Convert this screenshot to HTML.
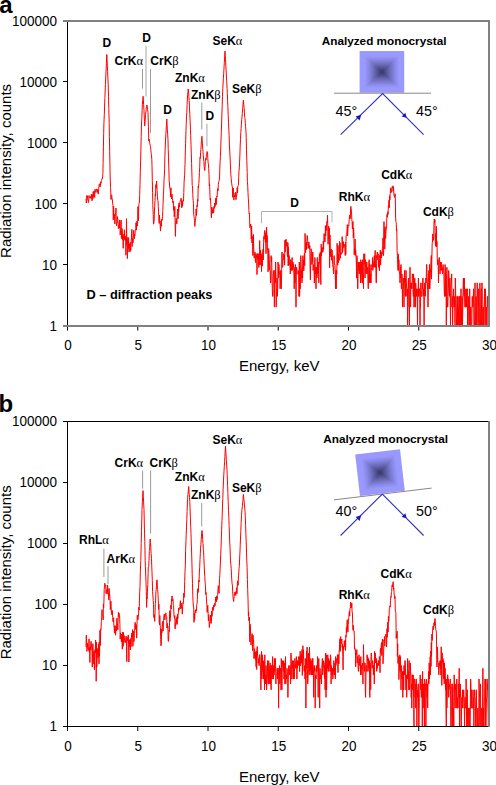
<!DOCTYPE html>
<html><head><meta charset="utf-8">
<style>
html,body{margin:0;padding:0;background:#fff;}
body{width:496px;height:785px;overflow:hidden;position:relative;}
svg{position:absolute;left:0;top:0;display:block;}
text{font-family:"Liberation Sans",sans-serif;}
.tk{font-size:13.5px;fill:#000;}
.tt{font-size:15px;fill:#000;}
.lb{font-size:12px;font-weight:bold;fill:#000;}
.gr{font-family:"Liberation Serif",serif;font-weight:normal;font-size:12.5px;}
</style></head>
<body>
<svg width="496" height="785" viewBox="0 0 496 785">
<defs>
<clipPath id="ca"><rect x="67" y="0" width="422" height="326"/></clipPath>
<clipPath id="cb"><rect x="67" y="400" width="422" height="327"/></clipPath>
</defs>
<!-- ===== PANEL A ===== -->
<path d="M86.0 198.9 L86.3 203.0 L86.6 200.8 L86.9 195.3 L87.2 198.1 L87.5 196.1 L87.8 200.0 L88.1 200.3 L88.4 202.6 L88.7 201.3 L89.0 195.5 L89.3 197.7 L89.6 197.7 L89.9 196.9 L90.2 196.9 L90.5 198.3 L90.8 196.6 L91.0 197.2 L91.4 194.1 L91.7 197.2 L92.0 200.8 L92.3 194.7 L92.6 199.3 L92.9 199.1 L93.2 191.6 L93.5 197.3 L93.8 193.5 L94.0 191.2 L94.4 196.9 L94.7 197.5 L95.0 189.3 L95.3 192.4 L95.6 191.5 L95.9 191.2 L96.2 189.9 L96.5 189.0 L96.8 188.9 L97.1 192.5 L97.4 189.5 L97.7 191.6 L98.0 192.6 L98.3 194.1 L98.6 189.9 L98.9 186.9 L99.2 184.1 L99.5 183.8 L99.8 185.2 L100.0 187.0 L100.4 185.9 L100.7 181.9 L101.0 183.3 L101.3 180.6 L101.6 180.4 L102.0 178.5 L102.2 178.6 L102.5 178.7 L102.9 173.3 L103.1 163.3 L103.4 146.9 L103.7 133.3 L103.9 123.6 L104.3 114.6 L104.6 106.1 L104.9 97.7 L105.2 90.0 L105.4 84.5 L105.8 76.1 L106.1 69.9 L106.4 63.3 L106.8 54.5 L107.0 58.9 L107.3 65.1 L107.6 71.6 L107.9 78.2 L108.2 84.2 L108.5 96.2 L108.8 108.4 L109.2 123.4 L109.4 136.5 L109.7 151.3 L110.1 174.0 L110.3 181.2 L110.6 187.6 L111.0 199.4 L111.2 195.6 L111.5 194.8 L111.8 195.6 L112.1 200.0 L112.4 199.7 L112.7 203.9 L113.0 205.6 L113.3 220.0 L113.6 206.1 L113.9 213.8 L114.2 215.5 L114.5 214.1 L114.8 223.9 L115.1 217.9 L115.4 214.7 L115.7 212.7 L116.0 208.0 L116.3 223.6 L116.6 225.6 L116.9 222.4 L117.2 222.8 L117.5 216.6 L117.8 219.5 L118.1 222.7 L118.4 228.8 L118.7 228.5 L119.0 224.9 L119.3 228.0 L119.6 219.9 L119.9 221.8 L120.2 235.0 L120.5 230.7 L120.8 229.5 L121.1 220.1 L121.4 238.6 L121.7 230.7 L122.0 228.5 L122.3 229.2 L122.6 240.1 L122.9 236.1 L123.2 248.3 L123.5 239.3 L123.8 234.3 L124.1 237.6 L124.4 229.8 L124.7 239.7 L125.0 235.8 L125.3 240.7 L125.6 236.8 L125.9 255.2 L126.2 247.6 L126.5 218.7 L126.8 244.2 L127.1 238.7 L127.4 258.6 L127.7 248.6 L128.0 237.2 L128.3 248.4 L128.6 238.3 L128.9 251.9 L129.2 251.8 L129.5 243.6 L129.8 245.0 L130.0 251.7 L130.4 242.3 L130.7 250.4 L131.0 244.1 L131.3 240.2 L131.6 233.2 L131.9 229.3 L132.2 246.6 L132.5 238.4 L132.8 238.7 L133.0 242.9 L133.4 234.4 L133.7 230.4 L134.0 236.1 L134.3 238.8 L134.6 234.4 L134.9 235.8 L135.2 230.7 L135.5 231.0 L135.8 230.3 L136.0 222.7 L136.4 230.1 L136.7 222.9 L137.0 221.1 L137.3 226.1 L137.6 223.4 L138.0 206.6 L138.2 215.8 L138.5 220.8 L138.8 204.4 L139.1 203.6 L139.5 201.0 L139.7 194.6 L140.0 184.3 L140.3 171.8 L140.5 166.2 L140.9 149.1 L141.2 136.6 L141.5 124.0 L141.8 118.6 L142.1 110.8 L142.3 104.9 L142.7 100.3 L143.1 96.3 L143.3 98.7 L143.6 104.5 L144.0 110.7 L144.2 115.1 L144.5 121.7 L144.7 126.0 L145.1 121.3 L145.5 114.6 L145.7 112.9 L146.0 111.2 L146.3 108.4 L146.6 106.3 L146.9 105.0 L147.2 106.1 L147.5 109.3 L147.8 111.1 L148.0 112.4 L148.4 126.3 L148.8 141.0 L149.0 139.1 L149.3 140.2 L149.6 142.1 L149.9 143.8 L150.3 145.5 L150.5 146.6 L150.8 149.5 L151.1 152.8 L151.4 154.7 L151.8 159.1 L152.0 165.5 L152.3 180.6 L152.6 192.3 L152.8 204.4 L153.2 214.4 L153.5 224.2 L153.8 223.2 L154.1 221.1 L154.5 210.0 L154.7 206.6 L155.0 200.6 L155.3 194.3 L155.5 195.7 L155.9 184.6 L156.2 188.2 L156.6 181.0 L156.8 184.6 L157.1 190.4 L157.4 196.8 L157.7 200.3 L158.0 200.7 L158.3 206.2 L158.6 212.2 L159.0 221.1 L159.2 223.4 L159.5 215.2 L159.8 222.5 L160.1 224.0 L160.5 231.1 L160.7 226.8 L161.0 220.9 L161.3 226.4 L161.6 219.5 L162.0 219.1 L162.2 220.4 L162.5 216.2 L162.8 210.6 L163.1 203.4 L163.4 194.8 L163.7 190.1 L164.0 180.5 L164.3 176.0 L164.6 169.8 L164.9 156.2 L165.2 148.0 L165.5 141.1 L165.8 134.8 L166.1 131.1 L166.4 125.4 L166.8 119.0 L167.0 123.2 L167.3 129.1 L167.6 133.1 L168.0 139.8 L168.2 148.4 L168.5 157.8 L168.8 167.0 L169.2 181.9 L169.4 182.0 L169.7 187.6 L170.0 188.7 L170.3 191.1 L170.6 196.8 L170.9 187.7 L171.2 196.7 L171.5 198.9 L171.8 196.3 L172.0 194.2 L172.4 198.6 L172.7 200.9 L173.0 203.1 L173.3 201.3 L173.6 210.3 L174.0 207.5 L174.2 216.7 L174.5 214.3 L174.8 206.4 L175.1 220.6 L175.4 236.4 L175.7 224.8 L176.0 219.7 L176.3 218.4 L176.6 223.2 L176.9 223.9 L177.2 216.7 L177.5 209.0 L177.8 209.7 L178.1 218.7 L178.5 205.3 L178.7 211.5 L179.0 202.9 L179.3 207.1 L179.6 204.7 L179.9 202.6 L180.2 201.2 L180.5 200.0 L180.8 200.0 L181.1 198.2 L181.4 201.4 L181.7 207.9 L182.0 200.9 L182.3 205.0 L182.5 206.2 L182.9 200.6 L183.2 199.9 L183.5 201.2 L183.8 192.6 L184.1 182.2 L184.5 175.9 L184.7 174.1 L185.0 164.3 L185.3 152.0 L185.6 143.7 L186.0 130.2 L186.2 124.7 L186.5 116.9 L186.8 112.8 L187.1 104.5 L187.3 100.0 L187.7 94.2 L188.0 91.5 L188.2 89.0 L188.6 92.0 L188.9 96.8 L189.2 100.7 L189.5 107.2 L189.8 114.7 L190.1 120.5 L190.5 129.5 L190.7 135.5 L191.0 144.2 L191.3 153.2 L191.6 163.4 L192.0 177.3 L192.2 185.6 L192.5 185.9 L192.8 194.5 L193.1 200.6 L193.5 203.8 L193.7 214.4 L194.0 216.6 L194.3 218.4 L194.6 220.5 L194.8 226.4 L195.2 221.9 L195.5 218.6 L195.8 218.6 L196.1 209.0 L196.5 215.4 L196.7 212.6 L197.0 205.0 L197.3 206.6 L197.6 199.5 L197.9 201.2 L198.2 186.4 L198.5 187.8 L198.8 183.6 L199.1 179.2 L199.4 172.6 L199.7 167.8 L200.0 157.4 L200.3 158.4 L200.6 152.9 L200.9 149.4 L201.2 145.1 L201.5 140.3 L201.9 136.3 L202.1 138.8 L202.4 143.9 L202.7 148.0 L203.0 151.7 L203.2 154.3 L203.6 159.0 L203.9 161.5 L204.2 166.8 L204.5 170.2 L204.8 170.6 L205.1 166.1 L205.4 161.7 L205.8 158.3 L206.0 159.9 L206.3 156.6 L206.6 156.1 L206.9 151.8 L207.1 151.5 L207.5 152.2 L207.8 158.4 L208.1 162.4 L208.5 164.8 L208.7 168.5 L209.0 174.3 L209.3 185.9 L209.6 183.8 L210.0 196.5 L210.2 200.0 L210.5 198.2 L210.8 204.6 L211.1 209.5 L211.4 217.8 L211.7 207.0 L212.0 213.6 L212.3 210.4 L212.6 212.7 L212.9 209.2 L213.2 207.7 L213.5 213.1 L213.8 211.5 L214.0 206.5 L214.4 208.2 L214.7 203.0 L215.0 206.7 L215.3 205.9 L215.6 198.3 L216.0 198.1 L216.2 204.7 L216.5 200.1 L216.8 196.1 L217.1 196.8 L217.4 191.9 L217.7 188.6 L218.0 190.9 L218.3 184.7 L218.6 181.9 L218.9 181.5 L219.2 180.7 L219.6 177.0 L219.8 168.1 L220.1 161.7 L220.4 156.6 L220.7 150.0 L221.0 139.1 L221.3 132.5 L221.6 123.0 L221.9 114.0 L222.2 105.6 L222.5 96.4 L222.8 88.2 L223.1 83.0 L223.4 78.4 L223.7 73.3 L224.0 68.0 L224.3 62.7 L224.6 57.9 L225.0 51.1 L225.2 55.0 L225.5 59.8 L225.8 65.2 L226.1 70.1 L226.4 76.0 L226.7 81.5 L227.1 88.5 L227.3 93.3 L227.6 100.8 L227.9 106.7 L228.2 115.5 L228.5 122.2 L228.9 131.2 L229.1 135.3 L229.4 144.1 L229.7 150.0 L230.0 156.0 L230.3 162.3 L230.6 170.2 L230.8 174.1 L231.2 178.3 L231.5 182.9 L231.8 183.9 L232.1 186.6 L232.4 186.7 L232.7 197.3 L233.0 192.0 L233.3 188.0 L233.6 195.2 L233.9 200.1 L234.2 195.7 L234.4 195.2 L234.8 197.0 L235.1 193.4 L235.4 195.3 L235.7 192.1 L236.0 199.7 L236.3 195.6 L236.5 196.7 L236.9 192.9 L237.2 187.7 L237.5 193.0 L237.8 185.8 L238.0 185.5 L238.4 185.2 L238.7 177.6 L239.0 170.9 L239.3 167.9 L239.6 162.1 L239.9 155.1 L240.2 145.0 L240.5 139.4 L240.8 132.5 L241.1 128.4 L241.4 124.2 L241.7 119.4 L242.0 117.1 L242.3 113.4 L242.6 108.6 L242.9 106.2 L243.2 102.1 L243.4 100.2 L243.8 104.8 L244.1 107.9 L244.4 112.2 L244.7 116.7 L245.0 118.6 L245.3 123.1 L245.6 126.3 L246.0 131.6 L246.2 137.5 L246.5 149.8 L246.8 160.3 L247.2 172.7 L247.4 181.6 L247.7 185.3 L248.0 192.6 L248.3 198.3 L248.6 202.9 L248.9 210.3 L249.1 213.8 L249.5 213.0 L249.8 227.6 L250.1 227.1 L250.5 226.1 L250.7 224.0 L251.0 230.7 L251.3 239.0 L251.6 226.0 L252.0 243.0 L252.2 236.3 L252.5 243.7 L252.8 255.5 L253.1 249.3 L253.4 234.5 L253.7 247.1 L254.0 256.0 L254.3 258.1 L254.6 253.8 L254.9 251.9 L255.2 257.8 L255.5 262.5 L255.8 253.6 L256.1 253.6 L256.4 257.6 L256.7 255.5 L257.0 274.6 L257.3 255.5 L257.6 253.6 L258.0 259.7 L258.2 253.6 L258.5 255.5 L258.8 267.5 L259.1 262.1 L259.4 264.8 L259.7 240.6 L260.0 259.8 L260.3 253.6 L260.6 250.1 L260.9 265.1 L261.2 253.7 L261.5 271.6 L261.8 255.7 L262.0 257.9 L262.4 266.1 L262.7 254.4 L263.0 249.2 L263.3 259.9 L263.6 242.3 L263.9 236.3 L264.2 239.3 L264.5 230.7 L264.8 230.3 L265.2 232.0 L265.4 242.4 L265.7 233.0 L266.0 253.7 L266.3 241.5 L266.6 227.1 L266.9 241.9 L267.2 235.6 L267.5 250.5 L267.8 252.0 L268.0 271.8 L268.4 268.0 L268.7 248.5 L269.0 253.6 L269.3 259.7 L269.6 270.4 L269.9 270.4 L270.2 270.4 L270.5 282.9 L270.8 282.9 L271.1 255.6 L271.4 262.0 L271.7 257.5 L272.0 278.0 L272.3 288.8 L272.6 296.4 L272.9 296.4 L273.2 273.9 L273.5 273.9 L273.8 270.4 L274.1 288.8 L274.4 307.1 L274.7 273.9 L275.0 270.4 L275.3 282.9 L275.6 262.0 L275.9 273.9 L276.2 307.1 L276.5 288.8 L276.8 288.8 L277.0 278.0 L277.4 296.4 L277.7 288.8 L278.0 262.0 L278.3 267.3 L278.6 278.0 L278.9 264.5 L279.2 270.4 L279.5 273.9 L279.8 273.9 L280.1 288.8 L280.4 282.9 L280.7 270.4 L281.0 282.9 L281.3 288.8 L281.6 273.9 L282.0 252.0 L282.2 264.5 L282.5 267.3 L282.8 267.3 L283.1 257.5 L283.4 253.8 L283.7 253.7 L284.0 259.7 L284.3 255.5 L284.6 265.2 L284.9 240.2 L285.2 252.1 L285.5 240.2 L285.8 241.6 L286.1 239.2 L286.4 246.4 L286.7 243.0 L287.0 242.0 L287.3 255.0 L287.6 256.7 L287.9 242.8 L288.2 265.9 L288.5 247.0 L288.8 265.2 L289.1 255.5 L289.4 264.7 L289.7 264.6 L290.0 264.5 L290.3 273.9 L290.6 259.7 L290.9 259.7 L291.2 262.0 L291.5 270.4 L291.8 270.4 L292.1 257.5 L292.4 270.4 L292.7 267.3 L293.0 262.0 L293.3 267.3 L293.6 264.5 L293.9 273.9 L294.2 288.8 L294.5 278.0 L294.8 267.3 L295.0 282.9 L295.4 264.5 L295.7 267.3 L296.0 307.1 L296.3 273.9 L296.6 267.3 L296.9 270.4 L297.2 273.9 L297.5 273.9 L297.8 273.9 L298.1 273.9 L298.4 270.4 L298.7 273.9 L299.0 296.4 L299.3 262.0 L299.6 296.4 L300.0 278.0 L300.2 288.8 L300.5 278.0 L300.8 255.6 L301.1 267.3 L301.4 278.0 L301.7 270.4 L302.0 282.9 L302.3 267.3 L302.6 278.0 L302.9 255.6 L303.2 267.4 L303.5 259.7 L303.8 270.9 L304.0 262.2 L304.4 253.7 L304.7 265.6 L305.0 233.5 L305.3 237.8 L305.6 252.7 L305.9 244.6 L306.2 249.8 L306.5 242.4 L306.8 249.0 L307.1 235.5 L307.5 237.0 L307.7 240.8 L308.0 244.5 L308.3 244.0 L308.6 248.3 L308.9 241.9 L309.2 246.0 L309.5 248.9 L309.8 245.6 L310.1 268.8 L310.4 279.9 L310.7 265.0 L311.0 248.6 L311.3 250.2 L311.6 250.3 L311.9 264.5 L312.2 253.8 L312.5 262.0 L312.8 252.0 L313.1 270.4 L313.4 267.3 L313.7 264.5 L314.0 267.3 L314.3 282.9 L314.6 278.0 L314.9 257.5 L315.2 273.9 L315.5 267.3 L315.8 278.0 L316.0 288.8 L316.4 267.3 L316.7 273.9 L317.0 278.0 L317.3 257.5 L317.6 273.9 L317.9 264.5 L318.2 262.0 L318.5 264.5 L318.8 282.9 L319.1 264.5 L319.4 253.8 L319.7 255.6 L320.0 264.5 L320.3 251.9 L320.6 278.9 L320.9 284.6 L321.2 244.1 L321.5 255.9 L321.8 248.7 L322.1 252.5 L322.4 247.5 L322.7 247.9 L323.0 251.8 L323.3 241.1 L323.6 249.2 L324.0 233.6 L324.2 233.8 L324.5 236.5 L324.8 242.0 L325.1 241.2 L325.4 225.6 L325.7 236.0 L326.0 228.3 L326.3 230.6 L326.6 224.1 L326.9 221.6 L327.3 223.0 L327.5 215.1 L327.8 227.3 L328.1 244.3 L328.4 226.7 L328.7 226.1 L329.0 239.2 L329.3 227.8 L329.6 267.8 L330.0 235.0 L330.2 248.4 L330.5 249.6 L330.8 256.9 L331.1 248.9 L331.4 256.1 L331.7 260.3 L332.0 250.1 L332.3 253.6 L332.6 264.6 L333.0 267.3 L333.2 267.3 L333.5 273.9 L333.8 267.3 L334.1 255.6 L334.4 264.5 L334.7 264.5 L335.0 264.5 L335.3 278.0 L335.7 288.8 L335.9 270.4 L336.2 288.8 L336.5 270.4 L336.8 273.9 L337.1 243.3 L337.4 251.8 L337.7 265.2 L338.0 245.5 L338.3 262.9 L338.6 253.9 L338.9 258.1 L339.2 260.5 L339.5 241.4 L339.8 252.1 L340.1 242.7 L340.4 258.3 L340.7 252.2 L341.0 252.2 L341.3 254.2 L341.6 254.2 L342.0 252.3 L342.2 236.6 L342.5 252.4 L342.8 250.7 L343.1 244.3 L343.4 241.6 L343.7 247.5 L344.0 247.5 L344.3 244.5 L344.6 244.6 L345.0 246.2 L345.2 255.5 L345.5 242.3 L345.8 254.6 L346.1 235.5 L346.4 235.9 L346.7 235.3 L347.0 230.5 L347.3 224.6 L347.6 236.0 L348.0 228.6 L348.2 226.4 L348.5 225.4 L348.8 226.1 L349.1 220.8 L349.4 216.9 L349.7 215.2 L350.0 218.9 L350.3 218.3 L350.6 207.8 L350.9 206.4 L351.1 208.2 L351.5 211.9 L351.8 219.8 L352.1 221.5 L352.4 228.9 L352.7 223.9 L353.0 221.5 L353.3 237.7 L353.6 227.9 L353.9 233.9 L354.2 254.8 L354.5 248.1 L354.8 252.6 L355.1 239.0 L355.4 255.6 L355.7 250.1 L356.0 255.5 L356.3 262.0 L356.6 278.2 L356.9 255.6 L357.2 257.5 L357.5 282.9 L357.8 288.8 L358.0 278.0 L358.4 262.0 L358.7 270.4 L359.0 262.0 L359.3 273.9 L359.6 264.5 L359.9 262.0 L360.2 262.0 L360.5 282.9 L360.8 259.7 L361.1 273.9 L361.4 262.0 L361.7 278.0 L362.0 282.9 L362.3 282.9 L362.6 259.7 L362.9 282.9 L363.2 273.9 L363.5 288.8 L363.8 253.8 L364.1 262.0 L364.4 264.5 L364.7 253.8 L365.0 278.0 L365.3 259.7 L365.6 259.7 L365.9 273.9 L366.2 273.9 L366.5 267.3 L366.8 262.0 L367.1 273.9 L367.4 267.3 L367.7 267.3 L368.0 282.9 L368.3 288.8 L368.6 273.9 L368.9 262.0 L369.2 259.7 L369.5 282.9 L369.8 267.3 L370.1 264.5 L370.4 282.9 L370.7 273.9 L371.0 282.9 L371.3 270.4 L371.6 267.3 L372.0 264.5 L372.2 267.3 L372.5 257.5 L372.8 270.4 L373.1 267.3 L373.4 267.3 L373.7 262.0 L374.0 259.7 L374.3 255.6 L374.6 267.3 L374.9 255.6 L375.2 250.4 L375.5 267.3 L375.8 264.5 L376.1 282.9 L376.4 282.9 L376.7 255.6 L377.0 257.5 L377.3 252.0 L377.6 259.7 L378.0 255.6 L378.2 253.8 L378.5 267.3 L378.8 262.0 L379.1 259.7 L379.4 270.8 L379.7 255.5 L380.0 257.6 L380.3 250.1 L380.6 265.1 L380.9 255.6 L381.2 251.9 L381.5 257.9 L381.8 252.0 L382.1 254.1 L382.4 247.2 L382.7 247.5 L383.0 238.0 L383.3 255.7 L383.6 254.2 L384.0 221.6 L384.2 241.9 L384.5 228.7 L384.8 249.1 L385.1 226.6 L385.4 238.7 L385.7 238.0 L386.0 230.8 L386.3 229.9 L386.6 228.3 L386.9 214.5 L387.2 214.4 L387.5 217.2 L387.8 211.8 L388.0 214.5 L388.4 205.8 L388.7 207.3 L389.0 200.2 L389.3 207.7 L389.6 195.8 L389.9 199.9 L390.2 193.3 L390.5 191.0 L390.8 187.9 L391.0 192.8 L391.4 190.7 L391.7 191.3 L392.0 187.2 L392.3 186.7 L392.6 188.0 L393.0 185.8 L393.2 191.3 L393.5 187.2 L393.8 193.4 L394.1 196.0 L394.4 196.8 L394.7 197.5 L395.0 193.7 L395.3 197.3 L395.6 217.0 L395.9 221.8 L396.2 222.6 L396.5 230.8 L396.8 229.4 L397.1 250.9 L397.4 255.6 L397.6 259.7 L398.0 270.4 L398.3 253.8 L398.6 270.4 L398.9 259.7 L399.2 270.4 L399.5 273.9 L399.8 273.9 L400.0 282.9 L400.4 267.3 L400.7 278.0 L401.0 264.5 L401.3 288.8 L401.6 288.8 L401.9 273.9 L402.2 278.0 L402.5 307.1 L402.8 288.8 L403.1 288.8 L403.4 282.9 L403.7 278.0 L404.0 307.1 L404.3 278.0 L404.6 270.4 L404.9 282.9 L405.2 278.0 L405.5 296.4 L405.8 278.0 L406.0 270.4 L406.4 282.9 L406.7 288.8 L407.0 296.4 L407.3 288.8 L407.6 325.5 L407.9 296.4 L408.2 282.9 L408.5 278.0 L408.8 307.1 L409.1 307.1 L409.4 325.5 L409.7 288.8 L410.0 267.3 L410.3 296.4 L410.6 307.1 L410.9 282.9 L411.2 288.8 L411.5 282.9 L411.8 288.8 L412.0 288.8 L412.4 273.9 L412.7 278.0 L413.0 278.0 L413.3 296.4 L413.6 273.9 L413.9 307.1 L414.2 307.1 L414.5 282.9 L414.8 278.0 L415.1 307.1 L415.4 307.1 L415.7 282.9 L416.0 288.8 L416.3 296.4 L416.6 288.8 L416.9 296.4 L417.2 296.4 L417.5 325.5 L417.8 288.8 L418.1 296.4 L418.4 278.0 L418.7 296.4 L419.0 288.8 L419.3 288.8 L419.6 288.8 L420.0 325.5 L420.2 307.1 L420.5 307.1 L420.8 282.9 L421.1 296.4 L421.4 296.4 L421.7 296.4 L422.0 288.8 L422.3 282.9 L422.6 288.8 L422.9 278.0 L423.2 296.4 L423.5 288.8 L423.8 296.4 L424.1 325.5 L424.4 296.4 L424.7 282.9 L425.0 288.8 L425.3 296.4 L425.6 282.9 L425.9 278.0 L426.2 282.9 L426.5 264.5 L426.8 264.5 L427.1 278.0 L427.4 288.8 L427.7 282.9 L428.0 307.1 L428.3 282.9 L428.6 273.9 L428.9 270.4 L429.2 288.8 L429.5 264.5 L429.8 288.8 L430.2 278.0 L430.4 273.9 L430.7 267.3 L431.0 262.0 L431.3 255.5 L431.5 279.1 L431.9 256.0 L432.2 242.9 L432.5 242.0 L432.7 233.9 L433.1 235.8 L433.4 240.5 L433.7 237.7 L434.0 222.3 L434.3 219.0 L434.6 223.0 L434.9 219.7 L435.2 238.8 L435.5 246.0 L435.8 233.3 L436.1 246.7 L436.4 226.3 L436.6 246.8 L437.0 241.5 L437.3 260.1 L437.6 264.7 L437.8 259.7 L438.2 264.5 L438.5 282.9 L438.8 262.0 L439.1 257.5 L439.4 257.5 L439.7 262.0 L440.0 273.9 L440.3 264.5 L440.6 262.0 L440.9 270.4 L441.2 262.0 L441.5 267.3 L441.8 270.4 L442.1 267.3 L442.5 273.9 L442.7 273.9 L443.0 264.5 L443.3 267.3 L443.6 270.4 L443.9 273.9 L444.2 288.8 L444.5 296.4 L444.8 282.9 L445.0 264.5 L445.4 267.3 L445.7 296.4 L446.0 273.9 L446.3 325.5 L446.6 296.4 L446.9 267.3 L447.2 296.4 L447.5 307.1 L447.8 307.1 L448.0 296.4 L448.4 288.8 L448.7 270.4 L449.0 278.0 L449.3 288.8 L449.6 296.4 L449.9 278.0 L450.2 296.4 L450.5 325.5 L450.8 288.8 L451.1 282.9 L451.4 282.9 L451.7 273.9 L452.0 307.1 L452.3 296.4 L452.6 325.5 L452.9 307.1 L453.2 296.4 L453.5 288.8 L453.8 307.1 L454.1 307.1 L454.4 307.1 L454.7 296.4 L455.0 325.5 L455.3 278.0 L455.6 288.8 L455.9 307.1 L456.2 307.1 L456.5 325.5 L456.8 325.5 L457.1 296.4 L457.4 325.5 L457.7 296.4 L458.0 296.4 L458.3 325.5 L458.6 307.1 L458.9 307.1 L459.2 296.4 L459.5 325.5 L459.8 296.4 L460.1 307.1 L460.4 296.4 L460.7 325.5 L461.0 288.8 L461.3 325.5 L461.6 307.1 L461.9 307.1 L462.2 296.4 L462.5 325.5 L462.8 307.1 L463.1 288.8 L463.4 278.0 L463.7 288.8 L464.0 296.4 L464.3 278.0 L464.6 296.4 L465.0 307.1 L465.2 288.8 L465.5 307.1 L465.8 307.1 L466.1 296.4 L466.4 307.1 L466.7 288.8 L467.0 296.4 L467.3 288.8 L467.6 325.5 L467.9 307.1 L468.2 307.1 L468.5 296.4 L468.8 325.5 L469.1 325.5 L469.4 325.5 L469.7 288.8 L470.0 325.5 L470.3 325.5 L470.6 307.1 L470.9 307.1 L471.2 325.5 L471.5 325.5 L471.8 325.5 L472.1 296.4 L472.4 296.4 L472.7 307.1 L473.0 307.1 L473.3 296.4 L473.6 288.8 L473.9 325.5 L474.2 325.5 L474.5 325.5 L474.8 307.1 L475.0 282.9 L475.4 325.5 L475.7 325.5 L476.0 296.4 L476.3 296.4 L476.6 325.5 L476.9 325.5 L477.2 282.9 L477.5 296.4 L477.8 296.4 L478.1 325.5 L478.4 307.1 L478.7 288.8 L479.0 325.5 L479.3 325.5 L479.6 325.5 L479.9 282.9 L480.2 307.1 L480.5 325.5 L480.8 325.5 L481.1 296.4 L481.4 288.8 L481.7 325.5 L482.0 282.9 L482.3 325.5 L482.6 325.5 L482.9 325.5 L483.2 307.1 L483.5 325.5 L483.8 307.1 L484.1 307.1 L484.4 296.4 L484.7 288.8 L485.0 325.5 L485.3 288.8 L485.6 296.4 L485.9 325.5 L486.2 325.5 L486.5 307.1 L486.8 325.5 L487.1 325.5 L487.4 296.4 L487.7 296.4 L488.0 307.1 L488.3 307.1 L488.6 288.8 L489.0 278.0" fill="none" stroke="#ff0000" stroke-width="1" stroke-linejoin="round" clip-path="url(#ca)"/>
<g stroke="#000" stroke-width="1" fill="none">
<line x1="67.5" y1="20" x2="67.5" y2="330.5"/>
<line x1="63" y1="81.5" x2="67" y2="81.5"/>
<line x1="63" y1="142.5" x2="67" y2="142.5"/>
<line x1="63" y1="203.5" x2="67" y2="203.5"/>
<line x1="63" y1="264.5" x2="67" y2="264.5"/>
<line x1="137.75" y1="326" x2="137.75" y2="330.5"/>
<line x1="208" y1="326" x2="208" y2="330.5"/>
<line x1="278.25" y1="326" x2="278.25" y2="330.5"/>
<line x1="348.5" y1="326" x2="348.5" y2="330.5"/>
<line x1="418.75" y1="326" x2="418.75" y2="330.5"/>
</g>
<g stroke="#808080" stroke-width="2" fill="none">
<path d="M63 21 H489 V326 H63"/>
</g>
<g class="tk" text-anchor="end">
<text x="57" y="26.2" transform="translate(0 -1.83) scale(1 1.07)">100000</text>
<text x="57" y="87.2" transform="translate(0 -6.10) scale(1 1.07)">10000</text>
<text x="57" y="148.2" transform="translate(0 -10.37) scale(1 1.07)">1000</text>
<text x="57" y="209.2" transform="translate(0 -14.64) scale(1 1.07)">100</text>
<text x="57" y="270.2" transform="translate(0 -18.91) scale(1 1.07)">10</text>
<text x="57" y="331.2" transform="translate(0 -23.18) scale(1 1.07)">1</text>
</g>
<g class="tk" text-anchor="middle">
<text x="68" y="350.2" transform="translate(0 -24.51) scale(1 1.07)">0</text>
<text x="138.25" y="350.2" transform="translate(0 -24.51) scale(1 1.07)">5</text>
<text x="208.5" y="350.2" transform="translate(0 -24.51) scale(1 1.07)">10</text>
<text x="278.75" y="350.2" transform="translate(0 -24.51) scale(1 1.07)">15</text>
<text x="349" y="350.2" transform="translate(0 -24.51) scale(1 1.07)">20</text>
<text x="419.25" y="350.2" transform="translate(0 -24.51) scale(1 1.07)">25</text>
<text x="489.5" y="350.2" transform="translate(0 -24.51) scale(1 1.07)">30</text>
</g>
<text class="tt" x="279.25" y="371" text-anchor="middle">Energy, keV</text>
<text class="tt" transform="translate(10.8,170.9) rotate(-90)" text-anchor="middle">Radiation intensity, counts</text>
<text x="-0.8" y="13.2" style="font-size:24px;font-weight:bold">a</text>

<!-- labels a -->
<g class="lb">
<text x="102.5" y="46.5">D</text>
<text x="142.2" y="42">D</text>
<text x="114.5" y="65.3">CrK<tspan class="gr">α</tspan></text>
<text x="150.3" y="65.3">CrK<tspan class="gr">β</tspan></text>
<text x="163.2" y="114">D</text>
<text x="175" y="82">ZnK<tspan class="gr">α</tspan></text>
<text x="191" y="98.7">ZnK<tspan class="gr">β</tspan></text>
<text x="205.6" y="119.7">D</text>
<text x="212.5" y="44.8">SeK<tspan class="gr">α</tspan></text>
<text x="231.9" y="92.7">SeK<tspan class="gr">β</tspan></text>
<text x="294.6" y="207.1" text-anchor="middle">D</text>
<text x="338.8" y="200.9">RhK<tspan class="gr">α</tspan></text>
<text x="381.2" y="179.2">CdK<tspan class="gr">α</tspan></text>
<text x="422.9" y="216.4">CdK<tspan class="gr">β</tspan></text>
<text x="86.5" y="299" style="font-size:12.8px">D – diffraction peaks</text>
</g>
<g stroke="#999" stroke-width="1" fill="none">
<line x1="142.5" y1="69" x2="142.5" y2="88.6"/>
<line x1="150.5" y1="69" x2="150.5" y2="132.8"/>
<line x1="201.8" y1="102.7" x2="201.8" y2="129.4"/>
</g>
<g stroke="#c8c8c8" stroke-width="1.6" fill="none">
<line x1="146" y1="46.1" x2="146" y2="96.6"/>
<line x1="206.9" y1="123.7" x2="206.9" y2="146.3"/>
</g>
<path d="M261.5 223.3 V211.5 H332 V222.3" stroke="#b0b0b0" stroke-width="1" fill="none"/>

<!-- inset a -->
<text class="lb" x="384.1" y="44.7" text-anchor="middle" style="font-size:11.75px">Analyzed monocrystal</text>
<g transform="translate(381.9,71.9) rotate(0)"><rect x="-22.30" y="-20.85" width="44.60" height="41.70" fill="#9999ff"/><rect x="-21.36" y="-19.97" width="42.72" height="39.94" fill="#9999ff"/><rect x="-20.42" y="-19.09" width="40.84" height="38.18" fill="#9999ff"/><rect x="-19.48" y="-18.21" width="38.96" height="36.42" fill="#9999ff"/><rect x="-18.54" y="-17.33" width="37.08" height="34.67" fill="#9999ff"/><rect x="-17.60" y="-16.45" width="35.20" height="32.91" fill="#9999ff"/><rect x="-16.66" y="-15.57" width="33.31" height="31.15" fill="#9696fb"/><rect x="-15.72" y="-14.69" width="31.43" height="29.39" fill="#9292f5"/><rect x="-14.78" y="-13.82" width="29.55" height="27.63" fill="#8e8eef"/><rect x="-13.84" y="-12.94" width="27.67" height="25.87" fill="#8a8ae8"/><rect x="-12.90" y="-12.06" width="25.79" height="24.11" fill="#8585e0"/><rect x="-11.95" y="-11.18" width="23.91" height="22.35" fill="#8080d9"/><rect x="-11.01" y="-10.30" width="22.03" height="20.60" fill="#7b7bd0"/><rect x="-10.07" y="-9.42" width="20.15" height="18.84" fill="#7575c8"/><rect x="-9.13" y="-8.54" width="18.27" height="17.08" fill="#7070bf"/><rect x="-8.19" y="-7.66" width="16.39" height="15.32" fill="#6a6ab6"/><rect x="-7.25" y="-6.78" width="14.50" height="13.56" fill="#6464ad"/><rect x="-6.31" y="-5.90" width="12.62" height="11.80" fill="#5e5ea4"/><rect x="-5.37" y="-5.02" width="10.74" height="10.04" fill="#58589a"/><rect x="-4.43" y="-4.14" width="8.86" height="8.29" fill="#525290"/><rect x="-3.49" y="-3.26" width="6.98" height="6.53" fill="#4b4b86"/><rect x="-2.55" y="-2.38" width="5.10" height="4.77" fill="#45457c"/><rect x="-1.61" y="-1.50" width="3.22" height="3.01" fill="#3e3e72"/><rect x="-0.67" y="-0.63" width="1.34" height="1.25" fill="#383868"/></g>
<line x1="334" y1="93.2" x2="431" y2="93.2" stroke="#888" stroke-width="1"/>
<g stroke="#3434b4" stroke-width="1.1" fill="none">
<path d="M340.6 134.6 L382.6 93.5 L423.6 134.6"/>
</g>
<g fill="#1414c8">
<path d="M361.2 114.8 L355.6 116.4 L359.6 120.4 Z"/>
<path d="M406.6 117.7 L401.6 116.4 L405.4 112.8 Z"/>
</g>
<g class="tk" style="font-size:14.3px">
<text x="335.5" y="115.8" transform="translate(0 -8.11) scale(1 1.07)">45°</text>
<text x="416" y="115.8" transform="translate(0 -8.11) scale(1 1.07)">45°</text>
</g>

<!-- ===== PANEL B ===== -->
<path d="M86.0 647.0 L86.3 635.1 L86.6 640.9 L86.9 651.4 L87.2 649.4 L87.5 643.2 L87.8 647.5 L88.0 647.4 L88.4 648.8 L88.7 650.4 L89.0 638.9 L89.3 652.0 L89.6 648.5 L89.9 662.5 L90.2 646.8 L90.5 650.0 L90.8 642.5 L91.1 641.2 L91.4 643.8 L91.7 648.1 L92.0 651.4 L92.3 667.1 L92.6 648.0 L92.9 643.7 L93.2 651.3 L93.5 654.9 L93.8 664.0 L94.1 651.2 L94.4 669.7 L94.7 654.8 L95.0 649.5 L95.3 652.9 L95.6 640.0 L96.0 651.1 L96.2 681.3 L96.5 642.4 L96.8 667.0 L97.1 655.2 L97.4 653.4 L97.7 648.4 L98.0 657.9 L98.3 648.7 L98.6 644.3 L99.0 663.8 L99.2 642.1 L99.5 656.2 L99.8 638.3 L100.0 630.2 L100.4 645.4 L100.7 628.9 L101.0 629.6 L101.3 621.4 L101.6 620.1 L102.0 609.6 L102.2 614.3 L102.5 615.6 L102.8 615.3 L103.2 619.8 L103.4 603.9 L103.7 607.7 L104.0 598.9 L104.2 589.3 L104.6 586.1 L104.8 583.2 L105.2 585.7 L105.5 586.3 L105.8 585.2 L106.0 593.4 L106.4 590.3 L106.7 589.7 L107.0 594.1 L107.3 593.2 L107.6 585.0 L107.9 590.1 L108.1 589.8 L108.5 596.5 L108.8 599.9 L109.1 588.4 L109.5 595.3 L109.7 594.3 L110.0 598.9 L110.3 609.6 L110.6 607.0 L110.9 601.2 L111.2 608.0 L111.5 613.3 L111.8 614.7 L112.1 610.4 L112.4 610.9 L112.7 617.5 L113.1 621.8 L113.3 618.3 L113.6 617.7 L113.9 625.1 L114.2 628.4 L114.5 633.2 L114.8 625.7 L115.1 626.7 L115.4 631.5 L115.6 635.2 L116.0 625.7 L116.3 630.5 L116.6 631.1 L116.9 618.1 L117.2 625.5 L117.5 623.9 L117.8 629.8 L118.1 619.6 L118.4 612.4 L118.7 616.6 L118.9 613.0 L119.3 614.5 L119.6 615.8 L119.9 624.5 L120.2 639.1 L120.5 632.8 L120.8 634.4 L121.1 634.0 L121.4 641.8 L121.7 634.2 L122.0 637.2 L122.3 649.2 L122.6 632.1 L123.0 638.3 L123.2 646.4 L123.5 632.5 L123.8 641.8 L124.1 635.5 L124.4 640.2 L124.7 640.1 L125.0 642.6 L125.3 641.2 L125.6 642.4 L125.9 637.3 L126.2 636.1 L126.5 646.4 L126.8 661.7 L127.0 637.0 L127.4 640.7 L127.7 640.7 L128.0 637.1 L128.3 634.9 L128.6 644.9 L128.9 662.0 L129.2 639.6 L129.5 640.9 L129.8 646.6 L130.1 639.7 L130.4 649.9 L130.7 638.5 L131.0 646.7 L131.3 642.5 L131.6 633.2 L131.9 634.3 L132.2 636.7 L132.5 629.6 L132.8 646.3 L133.1 645.0 L133.4 630.9 L133.7 632.0 L134.0 641.5 L134.3 633.6 L134.6 633.0 L134.9 625.0 L135.2 622.3 L135.5 629.4 L135.8 624.7 L136.1 624.4 L136.4 624.8 L136.7 638.2 L137.1 619.4 L137.3 615.2 L137.6 617.2 L137.9 619.9 L138.2 617.8 L138.5 616.4 L138.8 607.2 L139.1 610.1 L139.3 606.3 L139.7 592.2 L140.0 586.6 L140.3 572.8 L140.6 564.7 L140.8 560.4 L141.2 543.5 L141.5 531.8 L141.8 518.5 L142.0 509.6 L142.4 501.7 L142.7 496.9 L143.0 490.6 L143.3 496.2 L143.6 502.1 L144.0 509.6 L144.2 518.0 L144.5 533.2 L144.8 541.7 L145.2 560.4 L145.4 566.8 L145.7 574.0 L146.0 582.3 L146.3 591.7 L146.6 607.4 L146.9 597.9 L147.2 598.8 L147.5 588.9 L147.8 584.6 L148.1 573.3 L148.3 566.8 L148.7 566.5 L149.0 560.5 L149.3 551.5 L149.6 550.3 L149.9 543.6 L150.2 539.0 L150.5 542.7 L150.8 547.2 L151.1 553.7 L151.5 558.3 L151.7 565.2 L152.0 572.3 L152.3 580.7 L152.6 591.7 L153.0 597.0 L153.2 600.5 L153.5 604.4 L153.8 617.6 L154.1 617.5 L154.3 614.5 L154.7 621.4 L155.0 614.0 L155.3 603.7 L155.5 603.3 L155.9 591.6 L156.2 589.2 L156.5 585.2 L156.8 580.2 L157.1 579.8 L157.4 587.1 L157.7 589.6 L158.0 594.3 L158.2 598.1 L158.6 609.4 L158.9 604.3 L159.2 621.6 L159.5 624.8 L159.8 615.5 L160.1 624.0 L160.4 627.5 L160.7 639.8 L160.9 645.8 L161.3 645.1 L161.6 629.3 L161.9 632.7 L162.2 626.6 L162.5 621.6 L162.8 624.5 L163.1 631.1 L163.5 620.7 L163.7 618.4 L164.0 615.3 L164.3 614.1 L164.6 617.5 L164.9 619.9 L165.2 616.8 L165.5 614.6 L165.9 612.9 L166.1 616.4 L166.4 616.2 L166.7 616.5 L167.0 628.0 L167.3 623.3 L167.6 628.1 L167.9 626.4 L168.2 641.0 L168.5 641.4 L168.8 634.6 L169.1 630.0 L169.4 631.5 L169.7 610.7 L170.0 621.4 L170.3 614.3 L170.5 617.4 L170.9 605.0 L171.2 609.0 L171.5 599.6 L171.8 600.3 L172.0 595.9 L172.4 601.1 L172.7 600.5 L173.0 599.4 L173.3 604.9 L173.6 605.6 L174.0 615.7 L174.2 616.8 L174.5 618.5 L174.8 615.5 L175.1 628.9 L175.4 623.6 L175.7 626.0 L176.1 618.7 L176.3 623.3 L176.6 619.2 L176.9 616.8 L177.2 624.5 L177.5 614.2 L177.8 618.7 L178.1 613.9 L178.5 612.9 L178.7 607.9 L179.0 610.1 L179.3 608.5 L179.6 607.8 L179.9 606.4 L180.2 602.4 L180.4 600.7 L180.8 609.0 L181.1 603.0 L181.4 604.6 L181.7 608.0 L182.0 607.5 L182.3 614.1 L182.5 611.0 L182.9 602.6 L183.2 603.6 L183.5 602.7 L183.8 593.1 L184.1 597.4 L184.5 589.8 L184.7 581.7 L185.0 571.5 L185.3 566.1 L185.6 550.5 L186.0 540.4 L186.2 534.2 L186.5 526.8 L186.8 519.7 L187.1 511.5 L187.5 499.6 L187.7 497.3 L188.0 494.2 L188.3 491.1 L188.7 486.5 L188.9 489.3 L189.2 493.6 L189.5 497.4 L189.8 501.4 L190.0 507.3 L190.4 517.7 L190.7 526.5 L191.0 533.3 L191.3 545.1 L191.5 547.8 L191.9 562.1 L192.2 574.1 L192.5 583.5 L192.8 595.1 L193.0 600.8 L193.4 606.0 L193.7 607.0 L194.0 622.3 L194.2 613.4 L194.6 619.8 L194.9 615.0 L195.2 610.4 L195.5 609.9 L195.8 612.8 L196.1 609.5 L196.5 611.0 L196.7 604.5 L197.0 604.0 L197.3 599.7 L197.6 590.4 L197.9 588.6 L198.2 592.5 L198.5 587.8 L198.8 580.0 L199.0 582.1 L199.4 571.0 L199.7 567.3 L200.0 559.6 L200.3 553.8 L200.5 548.8 L200.9 544.8 L201.2 539.7 L201.5 536.1 L201.8 532.0 L202.0 530.5 L202.4 533.3 L202.7 539.7 L203.0 543.6 L203.3 548.5 L203.5 550.4 L203.9 558.2 L204.2 565.9 L204.5 572.0 L204.8 576.6 L205.1 582.6 L205.5 585.5 L205.7 594.3 L206.0 592.4 L206.3 596.6 L206.6 601.9 L206.9 605.6 L207.2 612.4 L207.5 606.9 L207.8 605.3 L208.1 613.4 L208.4 620.9 L208.7 614.8 L209.0 619.0 L209.3 627.5 L209.6 624.2 L209.9 621.8 L210.2 622.1 L210.5 615.0 L210.8 620.6 L211.1 623.5 L211.4 621.8 L211.7 611.0 L212.0 616.4 L212.3 610.1 L212.6 607.7 L213.0 606.9 L213.2 610.6 L213.5 607.1 L213.8 605.2 L214.1 607.2 L214.4 603.5 L214.7 603.2 L215.0 605.8 L215.3 603.7 L215.6 597.2 L216.0 599.3 L216.2 597.0 L216.5 601.8 L216.8 595.9 L217.1 599.6 L217.4 595.5 L217.7 594.6 L218.0 589.4 L218.3 585.7 L218.6 587.8 L219.0 593.4 L219.2 589.5 L219.5 578.5 L219.8 575.6 L220.1 568.9 L220.5 560.0 L220.7 554.7 L221.0 548.4 L221.3 539.2 L221.6 530.8 L222.0 520.4 L222.2 515.3 L222.5 505.9 L222.8 498.5 L223.1 489.9 L223.5 480.1 L223.7 477.0 L224.0 471.3 L224.3 466.4 L224.6 461.5 L224.9 456.4 L225.2 451.1 L225.5 446.1 L225.8 451.0 L226.1 456.0 L226.4 460.6 L226.7 465.1 L227.0 470.1 L227.3 478.0 L227.6 485.7 L227.9 493.6 L228.2 501.6 L228.5 510.5 L228.8 516.5 L229.1 525.6 L229.4 533.1 L229.7 541.1 L230.0 547.2 L230.3 555.2 L230.5 560.9 L230.9 564.7 L231.2 568.7 L231.5 575.2 L231.8 580.1 L232.1 583.8 L232.5 586.1 L232.7 591.9 L233.0 596.8 L233.3 599.7 L233.7 601.5 L233.9 598.7 L234.2 596.6 L234.5 594.0 L234.8 592.2 L235.1 592.1 L235.4 593.2 L235.7 595.5 L236.0 591.6 L236.3 592.9 L236.6 587.7 L236.9 593.8 L237.2 588.9 L237.5 580.9 L237.8 582.4 L238.1 585.4 L238.5 575.1 L238.7 575.1 L239.0 568.7 L239.3 566.5 L239.6 559.1 L240.0 551.0 L240.2 545.7 L240.5 538.0 L240.8 531.3 L241.1 523.4 L241.5 515.5 L241.7 512.9 L242.0 509.2 L242.3 506.5 L242.6 502.8 L242.9 500.9 L243.2 496.7 L243.4 494.5 L243.8 498.6 L244.1 501.0 L244.4 504.9 L244.7 507.0 L245.0 511.1 L245.3 516.7 L245.6 525.3 L245.9 534.6 L246.2 541.4 L246.5 552.1 L246.8 560.9 L247.1 567.3 L247.4 579.4 L247.7 589.5 L248.0 598.5 L248.4 615.8 L248.6 611.9 L248.9 620.7 L249.2 617.0 L249.5 619.0 L249.8 641.9 L250.0 624.1 L250.4 626.9 L250.7 636.5 L251.0 645.1 L251.3 639.2 L251.6 638.8 L251.9 635.0 L252.2 633.6 L252.5 650.7 L252.8 641.2 L253.0 635.1 L253.4 642.1 L253.7 640.5 L254.0 658.7 L254.3 650.5 L254.6 648.6 L254.9 657.7 L255.2 651.6 L255.5 659.5 L255.7 653.2 L256.1 666.8 L256.4 651.2 L256.7 669.5 L257.0 647.9 L257.3 646.5 L257.6 656.6 L258.0 656.5 L258.2 663.2 L258.5 660.8 L258.8 658.5 L259.1 665.7 L259.4 660.7 L259.7 654.6 L260.0 660.7 L260.3 665.6 L260.6 665.5 L260.9 689.9 L261.2 656.6 L261.5 651.4 L261.8 679.0 L262.1 663.0 L262.4 654.8 L262.7 671.4 L263.0 665.5 L263.3 679.0 L263.6 660.7 L263.9 679.0 L264.2 668.3 L264.5 689.8 L264.8 654.8 L265.0 683.9 L265.4 674.9 L265.7 683.9 L266.0 665.5 L266.3 671.4 L266.6 689.8 L266.9 679.0 L267.2 679.0 L267.5 660.7 L267.8 674.9 L268.1 683.9 L268.4 683.9 L268.7 660.7 L269.0 674.9 L269.3 683.9 L269.6 668.3 L269.9 665.5 L270.2 663.0 L270.5 683.9 L270.8 665.5 L271.1 689.8 L271.4 665.5 L271.7 665.5 L272.0 679.0 L272.3 668.3 L272.6 656.6 L272.9 679.0 L273.2 665.5 L273.5 679.0 L273.8 668.3 L274.1 674.9 L274.4 658.5 L274.7 671.4 L275.0 663.0 L275.3 658.5 L275.6 665.5 L275.9 683.9 L276.2 674.9 L276.5 674.9 L276.8 674.9 L277.1 668.3 L277.4 671.4 L277.7 679.0 L278.0 668.3 L278.3 679.0 L278.6 708.1 L278.9 668.3 L279.2 674.9 L279.5 665.5 L279.8 683.9 L280.0 668.3 L280.4 671.4 L280.7 668.3 L281.0 689.8 L281.3 658.5 L281.6 668.3 L281.9 689.8 L282.2 668.3 L282.5 660.7 L282.8 665.5 L283.1 665.5 L283.4 671.4 L283.7 660.7 L284.0 679.0 L284.3 663.0 L284.6 665.5 L284.9 683.9 L285.2 665.5 L285.5 656.6 L285.8 683.9 L286.1 674.9 L286.4 674.9 L286.7 679.0 L287.0 668.3 L287.3 671.4 L287.6 671.4 L287.9 697.4 L288.2 683.9 L288.5 668.3 L288.8 665.5 L289.1 671.4 L289.4 674.9 L289.7 674.9 L290.0 665.5 L290.3 674.9 L290.6 683.9 L290.9 653.0 L291.2 654.8 L291.5 668.3 L291.8 679.0 L292.1 679.0 L292.4 663.0 L292.7 660.7 L293.0 668.3 L293.3 660.7 L293.6 679.0 L293.9 665.5 L294.2 679.0 L294.5 671.4 L294.8 658.5 L295.0 660.7 L295.4 663.0 L295.7 668.3 L296.0 668.3 L296.3 656.6 L296.6 660.7 L296.9 679.0 L297.2 660.7 L297.5 668.3 L297.8 660.7 L298.1 660.7 L298.4 665.5 L298.7 656.6 L299.0 658.5 L299.3 656.6 L299.6 671.5 L299.9 660.7 L300.2 651.2 L300.5 665.7 L300.8 654.6 L301.1 654.6 L301.5 658.0 L301.7 663.2 L302.0 649.6 L302.3 675.4 L302.6 663.0 L302.9 645.7 L303.2 658.5 L303.5 649.9 L303.8 665.5 L304.1 671.4 L304.4 671.4 L304.7 665.5 L305.0 679.0 L305.3 658.5 L305.6 665.5 L305.9 708.1 L306.2 674.9 L306.5 651.4 L306.8 668.3 L307.1 647.1 L307.4 668.3 L307.7 683.9 L308.0 679.0 L308.3 668.3 L308.6 653.0 L308.9 665.5 L309.2 674.9 L309.5 647.1 L309.8 671.4 L310.1 658.5 L310.4 663.0 L310.7 671.4 L311.0 674.9 L311.3 660.7 L311.6 674.9 L311.9 668.3 L312.2 658.5 L312.5 674.9 L312.8 658.5 L313.1 668.3 L313.4 668.3 L313.7 697.4 L314.0 665.5 L314.3 665.5 L314.6 671.4 L314.9 668.3 L315.2 708.1 L315.5 674.9 L315.8 674.9 L316.1 679.0 L316.4 665.5 L316.7 671.4 L317.0 668.3 L317.3 668.3 L317.6 656.6 L317.9 674.9 L318.2 697.4 L318.5 663.0 L318.8 658.5 L319.1 671.4 L319.4 679.0 L319.7 708.1 L320.0 668.3 L320.3 679.0 L320.6 674.9 L320.9 674.9 L321.2 674.9 L321.5 683.9 L321.8 668.3 L322.1 663.0 L322.4 658.5 L322.7 674.9 L323.0 671.4 L323.3 668.3 L323.6 660.7 L323.9 663.0 L324.2 663.0 L324.5 679.0 L324.8 665.5 L325.1 689.8 L325.4 658.5 L325.7 653.0 L326.0 697.4 L326.3 654.8 L326.6 689.8 L326.9 671.4 L327.2 665.5 L327.5 668.3 L327.8 654.8 L328.1 671.4 L328.4 671.4 L328.7 658.5 L329.0 665.5 L329.3 665.5 L329.6 660.7 L329.9 671.4 L330.2 671.4 L330.5 654.8 L330.8 658.5 L331.1 683.9 L331.4 665.5 L331.7 671.4 L332.0 674.9 L332.3 671.4 L332.6 668.3 L332.9 679.0 L333.2 668.3 L333.5 671.4 L333.8 660.7 L334.1 674.9 L334.4 668.3 L334.7 674.9 L335.0 663.0 L335.3 679.0 L335.6 656.6 L335.9 665.5 L336.2 660.7 L336.5 660.7 L336.8 658.5 L337.1 663.2 L337.4 654.6 L337.7 654.6 L338.0 672.6 L338.3 656.7 L338.6 654.8 L338.9 664.0 L339.2 649.6 L339.5 649.7 L339.8 638.8 L340.0 651.6 L340.4 650.0 L340.7 636.6 L341.0 644.0 L341.3 641.4 L341.6 640.2 L341.9 639.0 L342.2 647.3 L342.5 644.4 L342.8 656.7 L343.1 669.8 L343.4 646.2 L343.7 649.5 L344.0 646.5 L344.3 640.9 L344.6 643.8 L344.9 646.9 L345.2 640.0 L345.5 650.5 L345.8 635.5 L346.1 637.1 L346.4 627.5 L346.7 632.8 L347.0 621.9 L347.3 619.7 L347.6 630.0 L348.0 631.9 L348.2 624.8 L348.5 621.2 L348.8 617.5 L349.1 613.2 L349.4 611.3 L349.7 616.1 L350.0 608.2 L350.3 608.1 L350.6 602.0 L350.9 603.0 L351.1 604.4 L351.5 608.0 L351.8 603.2 L352.1 612.4 L352.4 612.5 L352.7 623.3 L353.0 630.1 L353.3 625.4 L353.6 630.9 L353.9 631.4 L354.2 631.2 L354.5 649.0 L354.8 647.8 L355.1 650.2 L355.4 649.7 L355.7 666.8 L356.0 652.9 L356.3 654.7 L356.6 651.1 L356.9 649.6 L357.2 663.0 L357.5 656.5 L357.8 660.7 L358.0 665.5 L358.4 671.4 L358.7 665.5 L359.0 654.8 L359.3 665.5 L359.6 658.5 L359.9 663.0 L360.2 665.5 L360.5 674.9 L360.8 656.6 L361.1 674.9 L361.4 665.5 L361.7 668.3 L362.0 665.5 L362.3 665.5 L362.6 663.0 L362.9 683.9 L363.2 671.4 L363.5 644.6 L363.8 660.7 L364.1 663.0 L364.4 668.3 L364.7 671.4 L365.0 663.0 L365.3 689.8 L365.6 697.4 L365.9 679.0 L366.2 665.5 L366.5 668.3 L366.8 671.4 L367.1 654.8 L367.4 660.7 L367.7 656.6 L368.0 671.4 L368.3 663.0 L368.6 658.5 L368.9 668.3 L369.2 668.3 L369.5 660.7 L369.8 697.4 L370.1 663.0 L370.4 665.5 L370.7 689.8 L371.0 656.6 L371.3 653.0 L371.6 656.6 L371.9 663.0 L372.2 668.3 L372.5 660.7 L372.8 660.7 L373.1 665.5 L373.4 674.9 L373.7 665.5 L374.0 665.5 L374.3 683.9 L374.6 651.4 L374.9 663.0 L375.2 653.0 L375.5 656.6 L375.8 663.0 L376.1 663.0 L376.4 658.5 L376.7 671.4 L377.0 665.5 L377.3 668.3 L377.6 663.0 L378.0 665.5 L378.2 660.7 L378.5 660.7 L378.8 665.7 L379.1 660.7 L379.4 656.5 L379.7 658.7 L380.0 672.7 L380.3 649.5 L380.6 648.0 L380.9 653.2 L381.2 646.6 L381.5 642.5 L381.8 655.7 L382.1 650.3 L382.4 639.0 L382.7 643.0 L383.0 663.8 L383.3 657.1 L383.6 655.3 L383.9 639.8 L384.2 641.3 L384.5 636.6 L384.8 646.1 L385.1 637.1 L385.4 636.2 L385.7 634.3 L386.0 635.6 L386.3 639.5 L386.6 646.9 L387.0 628.6 L387.2 637.4 L387.5 631.1 L387.8 622.2 L388.1 632.0 L388.4 616.4 L388.7 621.6 L389.0 619.5 L389.3 609.2 L389.6 608.9 L390.0 605.8 L390.2 607.1 L390.5 600.7 L390.8 596.5 L391.1 597.3 L391.4 592.8 L391.7 591.4 L392.0 584.9 L392.3 584.8 L392.6 587.0 L393.0 582.2 L393.2 581.7 L393.5 589.5 L393.8 588.0 L394.1 593.2 L394.4 596.9 L394.7 598.5 L395.0 596.4 L395.3 611.1 L395.6 611.2 L395.9 613.6 L396.2 638.4 L396.5 634.2 L396.8 637.9 L397.1 631.2 L397.4 656.5 L397.7 643.8 L398.0 663.5 L398.3 658.6 L398.6 656.5 L398.9 679.6 L399.2 668.4 L399.5 668.3 L399.8 654.8 L400.1 671.4 L400.4 656.6 L400.7 668.3 L401.0 689.8 L401.3 665.5 L401.6 668.3 L402.0 679.0 L402.2 674.9 L402.5 671.4 L402.8 697.4 L403.1 674.9 L403.4 671.4 L403.7 689.8 L404.0 665.5 L404.3 674.9 L404.6 671.4 L404.9 660.7 L405.2 660.7 L405.5 668.3 L405.8 689.8 L406.1 689.8 L406.4 674.9 L406.7 697.4 L407.0 674.9 L407.3 679.0 L407.6 658.5 L408.0 671.4 L408.2 679.0 L408.5 671.4 L408.8 689.8 L409.1 660.7 L409.4 689.8 L409.7 689.8 L410.0 683.9 L410.3 663.0 L410.6 671.4 L410.9 674.9 L411.2 697.4 L411.5 683.9 L411.8 708.1 L412.1 674.9 L412.4 674.9 L412.7 689.8 L413.0 679.0 L413.3 674.9 L413.6 697.4 L414.0 726.5 L414.2 679.0 L414.5 679.0 L414.8 683.9 L415.1 697.4 L415.4 683.9 L415.7 708.1 L416.0 679.0 L416.3 679.0 L416.6 689.8 L416.9 726.5 L417.2 689.8 L417.5 697.4 L417.8 689.8 L418.1 683.9 L418.4 683.9 L418.7 726.5 L419.0 726.5 L419.3 697.4 L419.6 697.4 L419.9 689.8 L420.2 674.9 L420.5 689.8 L420.8 683.9 L421.1 679.0 L421.4 697.4 L421.7 697.4 L422.0 683.9 L422.3 726.5 L422.6 671.4 L422.9 697.4 L423.2 697.4 L423.5 683.9 L423.8 708.1 L424.1 689.8 L424.4 726.5 L424.7 679.0 L425.0 689.8 L425.3 683.9 L425.6 683.9 L425.9 726.5 L426.2 689.8 L426.5 679.0 L426.8 683.9 L427.1 697.4 L427.4 683.9 L427.7 708.1 L428.0 683.9 L428.3 683.9 L428.6 671.4 L428.9 683.9 L429.2 663.0 L429.5 679.0 L429.8 671.4 L430.2 656.6 L430.4 674.9 L430.7 651.2 L431.0 666.5 L431.3 642.5 L431.5 656.4 L431.9 634.0 L432.2 640.5 L432.5 634.3 L432.7 628.9 L433.1 626.1 L433.4 629.5 L433.7 627.6 L434.0 622.8 L434.3 625.7 L434.6 620.7 L435.0 618.5 L435.2 620.1 L435.5 625.2 L435.8 629.9 L436.1 630.5 L436.4 633.3 L436.6 645.0 L437.0 667.0 L437.3 646.9 L437.6 649.6 L437.8 661.0 L438.2 663.0 L438.5 665.5 L438.8 674.9 L439.1 668.3 L439.4 663.0 L439.7 665.5 L440.0 660.7 L440.3 668.3 L440.5 660.7 L440.9 675.0 L441.2 646.8 L441.5 665.8 L441.8 685.4 L442.1 652.8 L442.3 655.0 L442.7 663.2 L443.0 658.5 L443.3 679.0 L443.6 660.7 L443.9 663.0 L444.2 683.9 L444.5 663.0 L444.8 679.0 L445.1 668.3 L445.5 689.8 L445.7 679.0 L446.0 708.1 L446.3 726.5 L446.6 679.0 L446.9 708.1 L447.2 697.4 L447.5 674.9 L447.8 674.9 L448.0 679.0 L448.4 679.0 L448.7 697.4 L449.0 689.8 L449.3 689.8 L449.6 683.9 L449.9 683.9 L450.2 679.0 L450.5 689.8 L450.8 726.5 L451.1 726.5 L451.4 708.1 L451.7 708.1 L452.0 683.9 L452.3 726.5 L452.6 683.9 L452.9 689.8 L453.2 726.5 L453.5 708.1 L453.8 726.5 L454.1 674.9 L454.4 679.0 L454.7 697.4 L455.0 708.1 L455.3 683.9 L455.6 689.8 L455.9 689.8 L456.2 708.1 L456.5 689.8 L456.8 679.0 L457.1 708.1 L457.4 708.1 L457.7 697.4 L458.0 708.1 L458.3 683.9 L458.6 689.8 L458.9 697.4 L459.2 668.3 L459.5 726.5 L459.8 689.8 L460.1 697.4 L460.4 683.9 L460.7 697.4 L461.0 726.5 L461.3 726.5 L461.6 708.1 L461.9 697.4 L462.2 708.1 L462.5 689.8 L462.8 708.1 L463.1 697.4 L463.4 697.4 L463.7 689.8 L464.0 697.4 L464.3 708.1 L464.6 726.5 L464.9 697.4 L465.2 697.4 L465.5 708.1 L465.8 708.1 L466.1 679.0 L466.4 697.4 L466.7 726.5 L467.0 708.1 L467.3 689.8 L467.6 726.5 L467.9 726.5 L468.2 726.5 L468.5 708.1 L468.8 708.1 L469.1 726.5 L469.4 708.1 L469.7 708.1 L470.0 726.5 L470.3 708.1 L470.6 679.0 L470.9 683.9 L471.2 708.1 L471.5 689.8 L471.8 708.1 L472.1 708.1 L472.4 708.1 L472.7 708.1 L473.0 689.8 L473.3 708.1 L473.6 697.4 L473.9 726.5 L474.2 697.4 L474.5 689.8 L474.8 697.4 L475.1 697.4 L475.4 708.1 L475.7 726.5 L476.0 708.1 L476.3 689.8 L476.6 708.1 L476.9 726.5 L477.2 726.5 L477.5 726.5 L477.8 708.1 L478.1 726.5 L478.4 726.5 L478.7 726.5 L479.0 679.0 L479.3 689.8 L479.6 697.4 L479.9 726.5 L480.2 689.8 L480.5 683.9 L480.8 726.5 L481.1 726.5 L481.4 708.1 L481.7 708.1 L482.0 726.5 L482.3 726.5 L482.6 708.1 L482.9 668.3 L483.2 726.5 L483.5 708.1 L483.8 726.5 L484.1 708.1 L484.4 697.4 L484.7 697.4 L485.0 679.0 L485.3 726.5 L485.6 679.0 L485.9 726.5 L486.2 708.1 L486.5 697.4 L486.8 697.4 L487.1 679.0 L487.4 689.8 L487.7 683.9 L488.0 708.1 L488.3 726.5 L488.6 726.5 L489.0 697.4" fill="none" stroke="#ff0000" stroke-width="1" stroke-linejoin="round" clip-path="url(#cb)"/>
<g stroke="#000" stroke-width="1" fill="none">
<line x1="67.5" y1="421" x2="67.5" y2="731"/>
<line x1="63" y1="421.5" x2="489" y2="421.5"/>
<line x1="63" y1="726.5" x2="489" y2="726.5"/>
<line x1="63" y1="482.5" x2="67" y2="482.5"/>
<line x1="63" y1="543.5" x2="67" y2="543.5"/>
<line x1="63" y1="604.5" x2="67" y2="604.5"/>
<line x1="63" y1="665.5" x2="67" y2="665.5"/>
<line x1="137.75" y1="727" x2="137.75" y2="731"/>
<line x1="208" y1="727" x2="208" y2="731"/>
<line x1="278.25" y1="727" x2="278.25" y2="731"/>
<line x1="348.5" y1="727" x2="348.5" y2="731"/>
<line x1="418.75" y1="727" x2="418.75" y2="731"/>
</g>
<line x1="489" y1="421" x2="489" y2="727" stroke="#808080" stroke-width="2"/>
<g class="tk" text-anchor="end">
<text x="57" y="426.3" transform="translate(0 -29.84) scale(1 1.07)">100000</text>
<text x="57" y="487.3" transform="translate(0 -34.11) scale(1 1.07)">10000</text>
<text x="57" y="548.3" transform="translate(0 -38.38) scale(1 1.07)">1000</text>
<text x="57" y="609.3" transform="translate(0 -42.65) scale(1 1.07)">100</text>
<text x="57" y="670.3" transform="translate(0 -46.92) scale(1 1.07)">10</text>
<text x="57" y="731.3" transform="translate(0 -51.19) scale(1 1.07)">1</text>
</g>
<g class="tk" text-anchor="middle">
<text x="68" y="750.6" transform="translate(0 -52.54) scale(1 1.07)">0</text>
<text x="138.25" y="750.6" transform="translate(0 -52.54) scale(1 1.07)">5</text>
<text x="208.5" y="750.6" transform="translate(0 -52.54) scale(1 1.07)">10</text>
<text x="278.75" y="750.6" transform="translate(0 -52.54) scale(1 1.07)">15</text>
<text x="349" y="750.6" transform="translate(0 -52.54) scale(1 1.07)">20</text>
<text x="419.25" y="750.6" transform="translate(0 -52.54) scale(1 1.07)">25</text>
<text x="489.5" y="750.6" transform="translate(0 -52.54) scale(1 1.07)">30</text>
</g>
<text class="tt" x="279.25" y="782" text-anchor="middle">Energy, keV</text>
<text class="tt" transform="translate(10.8,572.3) rotate(-90)" text-anchor="middle">Radiation intensity, counts</text>
<text x="-1.6" y="412" style="font-size:24px;font-weight:bold">b</text>

<g class="lb">
<text x="79" y="543.6">RhL<tspan class="gr">α</tspan></text>
<text x="106.6" y="562.5">ArK<tspan class="gr">α</tspan></text>
<text x="114.6" y="466.9">CrK<tspan class="gr">α</tspan></text>
<text x="149.6" y="466.9">CrK<tspan class="gr">β</tspan></text>
<text x="174.8" y="480.8">ZnK<tspan class="gr">α</tspan></text>
<text x="191" y="499">ZnK<tspan class="gr">β</tspan></text>
<text x="212.5" y="444.1">SeK<tspan class="gr">α</tspan></text>
<text x="231.9" y="491.5">SeK<tspan class="gr">β</tspan></text>
<text x="338.7" y="598.5">RhK<tspan class="gr">α</tspan></text>
<text x="380.5" y="578">CdK<tspan class="gr">α</tspan></text>
<text x="423.1" y="613.9">CdK<tspan class="gr">β</tspan></text>
</g>
<g stroke="#999" stroke-width="1" fill="none">
<line x1="103.9" y1="548.7" x2="103.9" y2="577"/>
<line x1="108" y1="566.1" x2="108" y2="584.3"/>
<line x1="142.6" y1="470.6" x2="142.6" y2="488.7"/>
<line x1="150.6" y1="470.6" x2="150.6" y2="533.5"/>
<line x1="201.7" y1="503" x2="201.7" y2="526.4"/>
</g>

<!-- inset b -->
<text class="lb" x="385.6" y="442.9" text-anchor="middle" style="font-size:11.75px">Analyzed monocrystal</text>
<g transform="translate(380.0,472.55) rotate(-6.6)"><rect x="-22.55" y="-20.90" width="45.10" height="41.80" fill="#9999ff"/><rect x="-21.60" y="-20.02" width="43.20" height="40.04" fill="#9999ff"/><rect x="-20.65" y="-19.14" width="41.30" height="38.27" fill="#9999ff"/><rect x="-19.70" y="-18.26" width="39.39" height="36.51" fill="#9999ff"/><rect x="-18.75" y="-17.37" width="37.49" height="34.75" fill="#9999ff"/><rect x="-17.79" y="-16.49" width="35.59" height="32.99" fill="#9999ff"/><rect x="-16.84" y="-15.61" width="33.69" height="31.22" fill="#9696fb"/><rect x="-15.89" y="-14.73" width="31.79" height="29.46" fill="#9292f5"/><rect x="-14.94" y="-13.85" width="29.88" height="27.70" fill="#8e8eef"/><rect x="-13.99" y="-12.97" width="27.98" height="25.93" fill="#8a8ae8"/><rect x="-13.04" y="-12.09" width="26.08" height="24.17" fill="#8585e0"/><rect x="-12.09" y="-11.20" width="24.18" height="22.41" fill="#8080d9"/><rect x="-11.14" y="-10.32" width="22.28" height="20.65" fill="#7b7bd0"/><rect x="-10.19" y="-9.44" width="20.37" height="18.88" fill="#7575c8"/><rect x="-9.24" y="-8.56" width="18.47" height="17.12" fill="#7070bf"/><rect x="-8.28" y="-7.68" width="16.57" height="15.36" fill="#6a6ab6"/><rect x="-7.33" y="-6.80" width="14.67" height="13.59" fill="#6464ad"/><rect x="-6.38" y="-5.92" width="12.77" height="11.83" fill="#5e5ea4"/><rect x="-5.43" y="-5.03" width="10.86" height="10.07" fill="#58589a"/><rect x="-4.48" y="-4.15" width="8.96" height="8.31" fill="#525290"/><rect x="-3.53" y="-3.27" width="7.06" height="6.54" fill="#4b4b86"/><rect x="-2.58" y="-2.39" width="5.16" height="4.78" fill="#45457c"/><rect x="-1.63" y="-1.51" width="3.26" height="3.02" fill="#3e3e72"/><rect x="-0.68" y="-0.63" width="1.35" height="1.25" fill="#383868"/></g>
<line x1="334" y1="499.9" x2="431.6" y2="488.1" stroke="#888" stroke-width="1"/>
<g stroke="#3434b4" stroke-width="1.1" fill="none">
<path d="M340.6 535.5 L382.3 494 L423.6 535.5"/>
</g>
<g fill="#1414c8">
<path d="M361.2 515.3 L355.6 516.9 L359.6 520.9 Z"/>
<path d="M406.6 518.2 L401.6 516.9 L405.4 513.3 Z"/>
</g>
<g class="tk" style="font-size:14.3px">
<text x="335.5" y="516.3" transform="translate(0 -36.14) scale(1 1.07)">40°</text>
<text x="416" y="516.3" transform="translate(0 -36.14) scale(1 1.07)">50°</text>
</g>
</svg>
</body></html>
